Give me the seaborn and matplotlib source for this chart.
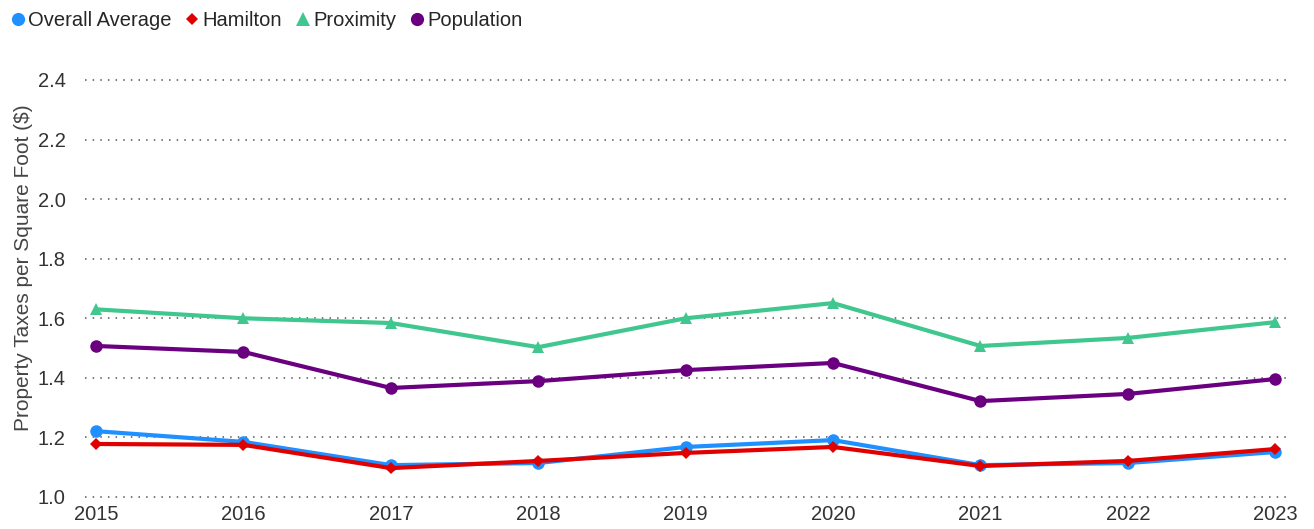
import pandas as pd
import seaborn as sns
import matplotlib.pyplot as plt
from matplotlib.lines import Line2D

years = [2015, 2016, 2017, 2018, 2019, 2020, 2021, 2022, 2023]
overall = [1.221, 1.185, 1.107, 1.114, 1.168, 1.191, 1.107, 1.114, 1.151]
hamilton = [1.178, 1.175, 1.097, 1.121, 1.148, 1.168, 1.104, 1.121, 1.161]
proximity = [1.630, 1.600, 1.584, 1.503, 1.600, 1.651, 1.507, 1.534, 1.587]
population = [1.507, 1.487, 1.366, 1.389, 1.426, 1.450, 1.322, 1.346, 1.396]

series = [
    ("Overall Average", overall, "#1E90FF", "o", 9),
    ("Hamilton", hamilton, "#E00000", "D", 6),
    ("Proximity", proximity, "#40C68F", "^", 9),
    ("Population", population, "#6A0080", "o", 9),
]

sns.set_style("white")
plt.rcParams['font.family'] = ['Liberation Sans', 'DejaVu Sans']

fig = plt.figure(figsize=(13.14, 5.29), dpi=100)
ax = fig.add_axes([0.0647, 0.0605, 0.917, 0.7883])

handles = []
for name, vals, col, mk, ms in series:
    df = pd.DataFrame({"year": years, "value": vals})
    sns.lineplot(data=df, x="year", y="value", ax=ax, color=col, linewidth=3,
                 marker=mk, markersize=ms, markeredgewidth=0, zorder=3)
    handles.append(Line2D([], [], linestyle="none", marker=mk, color=col,
                          markersize=ms + 0.5, markeredgewidth=0, label=name))

ax.set_xlim(2014.925, 2023.1)
ax.set_ylim(1.0, 2.4)
ax.set_xticks(years)
ax.set_yticks([1.0, 1.2, 1.4, 1.6, 1.8, 2.0, 2.2, 2.4])
ax.set_yticklabels([f"{v:.1f}" for v in [1.0, 1.2, 1.4, 1.6, 1.8, 2.0, 2.2, 2.4]])
ax.yaxis.grid(True, linestyle=(0, (1, 4)), color="#555555", linewidth=1.1, clip_on=False)
ax.xaxis.grid(False)
for s in ax.spines.values():
    s.set_visible(False)
ax.tick_params(axis="both", length=0, labelsize=14.5, colors="#333333")
ax.tick_params(axis="y", pad=14)
ax.tick_params(axis="x", pad=6)
ax.set_xlabel("")
ax.set_ylabel("Property Taxes per Square Foot ($)", fontsize=15, color="#444444")
ax.yaxis.set_label_coords(-0.043, 0.55)

fig.legend(handles=handles, loc="upper left", bbox_to_anchor=(-0.005, 1.005), ncol=4,
           frameon=False, fontsize=14.5, handletextpad=0.0, columnspacing=0.55,
           handlelength=1.0, borderaxespad=0.3)

fig.savefig("out.png", dpi=100)
